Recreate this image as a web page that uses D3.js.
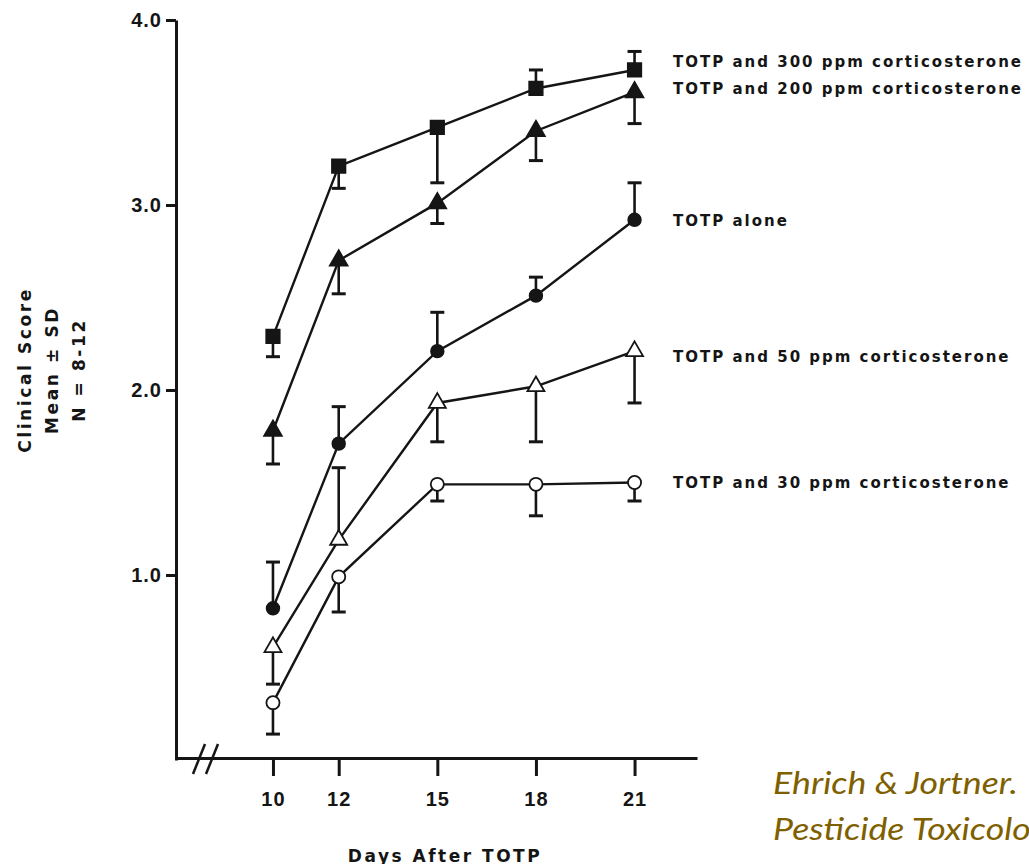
<!DOCTYPE html>
<html lang="en">
<head>
    <meta charset="UTF-8">
    <script src="https://d3js.org/d3.v7.min.js"></script>
    <title>Clinical Score after TOTP</title>
    <style>
        body { margin: 0; background: #fff; }
        svg { font-family: "Liberation Sans", Arial, sans-serif; display: block; }
        .scan { font-family: "DejaVu Sans", sans-serif; font-weight: bold; }
    </style>
</head>
<body>
    <div id="chart"></div>
    <script>
        // Days after TOTP
        const days = [10, 12, 15, 18, 21];
        const yTicks = [1, 2, 3, 4];

        // Mean clinical score, SD and which side the SD bar is drawn on
        const mean300 = [2.29, 3.21, 3.42, 3.63, 3.73];
        const sd300 = [0.11, 0.12, 0.30, 0.10, 0.10];
        const side300 = ["down", "down", "down", "up", "up"];

        const mean200 = [1.78, 2.70, 3.01, 3.40, 3.61];
        const sd200 = [0.18, 0.18, 0.11, 0.16, 0.17];
        const side200 = ["down", "down", "down", "down", "down"];

        const meanAlone = [0.82, 1.71, 2.21, 2.51, 2.92];
        const sdAlone = [0.25, 0.20, 0.21, 0.10, 0.20];
        const sideAlone = ["up", "up", "up", "up", "up"];

        const mean50 = [0.61, 1.19, 1.93, 2.02, 2.21];
        const sd50 = [0.20, 0.39, 0.21, 0.30, 0.28];
        const side50 = ["down", "up", "down", "down", "down"];

        const mean30 = [0.31, 0.99, 1.49, 1.49, 1.50];
        const sd30 = [0.17, 0.19, 0.09, 0.17, 0.10];
        const side30 = ["down", "down", "down", "down", "down"];

        const labels = [
            "TOTP and 300 ppm corticosterone",
            "TOTP and 200 ppm corticosterone",
            "TOTP alone",
            "TOTP and 50 ppm corticosterone",
            "TOTP and 30 ppm corticosterone"
        ];

        const ink = "#151515";
        const series = [
            { name: labels[0], mean: mean300, sd: sd300, side: side300, shape: d3.symbolSquare, size: 180, fill: ink, dy: -8 },
            { name: labels[1], mean: mean200, sd: sd200, side: side200, shape: d3.symbolTriangle, size: 135, fill: ink, dy: -3 },
            { name: labels[2], mean: meanAlone, sd: sdAlone, side: sideAlone, shape: d3.symbolCircle, size: 125, fill: ink, dy: 1 },
            { name: labels[3], mean: mean50, sd: sd50, side: side50, shape: d3.symbolTriangle, size: 125, fill: "#fff", dy: 6 },
            { name: labels[4], mean: mean30, sd: sd30, side: side30, shape: d3.symbolCircle, size: 135, fill: "#fff", dy: 0 }
        ];

        const W = 1029, H = 864;
        const svg = d3.select("#chart").append("svg")
            .attr("width", W)
            .attr("height", H);

        // Scales (x axis starts a bit before day 10, axis is broken)
        const x = d3.scaleLinear().domain([7.05, 22.9]).range([176, 697]);
        const y = d3.scaleLinear().domain([0, 4]).range([760, 20]);

        // Y axis
        const gy = svg.append("g")
            .attr("transform", `translate(${x.range()[0]},0)`)
            .call(d3.axisLeft(y).tickValues(yTicks).tickFormat(d3.format(".1f"))
                .tickSize(10).tickSizeOuter(0).tickPadding(4));

        // X axis
        const gx = svg.append("g")
            .attr("transform", `translate(0,${y(0) - 2})`)
            .call(d3.axisBottom(x).tickValues(days)
                .tickSize(18).tickSizeOuter(0).tickPadding(16));

        [gx, gy].forEach(g => {
            g.select(".domain").attr("stroke", ink).attr("stroke-width", 3);
            g.selectAll(".tick line").attr("stroke", ink).attr("stroke-width", 3);
            g.selectAll(".tick text")
                .attr("fill", ink)
                .style("font-size", "20px")
                .style("font-weight", "bold")
                .style("letter-spacing", "1px");
        });

        // Axis break marks
        const brk = svg.append("g").attr("stroke", ink).attr("stroke-width", 2.5);
        [199, 212].forEach(bx => {
            brk.append("line")
                .attr("x1", bx - 6).attr("y1", y(0) + 14)
                .attr("x2", bx + 6).attr("y2", y(0) - 16);
        });

        const line = d3.line()
            .x((d, i) => x(days[i]))
            .y(d => y(d));

        // Lines
        svg.append("g").selectAll("path")
            .data(series)
            .join("path")
            .attr("d", s => line(s.mean))
            .attr("fill", "none")
            .attr("stroke", ink)
            .attr("stroke-width", 2.4);

        // Error bars (one-sided)
        series.forEach(s => {
            const g = svg.append("g").attr("stroke", ink);
            s.mean.forEach((m, i) => {
                const end = s.side[i] === "up" ? m + s.sd[i] : m - s.sd[i];
                const cx = x(days[i]);
                g.append("line")
                    .attr("x1", cx).attr("x2", cx)
                    .attr("y1", y(m)).attr("y2", y(end))
                    .attr("stroke-width", 2.6);
                g.append("line")
                    .attr("x1", cx - 7).attr("x2", cx + 7)
                    .attr("y1", y(end)).attr("y2", y(end))
                    .attr("stroke-width", 3);
            });
        });

        // Markers
        series.forEach(s => {
            svg.append("g").selectAll("path")
                .data(s.mean)
                .join("path")
                .attr("transform", (d, i) => `translate(${x(days[i])},${y(d)})`)
                .attr("d", d3.symbol().type(s.shape).size(s.size))
                .attr("fill", s.fill)
                .attr("stroke", ink)
                .attr("stroke-width", 1.8);
        });

        // Series labels at the right end of each line
        svg.append("g").selectAll("text")
            .data(series)
            .join("text")
            .attr("class", "scan")
            .attr("x", 673)
            .attr("y", s => y(s.mean[s.mean.length - 1]) + s.dy)
            .attr("dominant-baseline", "central")
            .attr("fill", ink)
            .style("font-size", "15px")
            .style("letter-spacing", "2px")
            .text(s => s.name);

        // Y axis title, three lines rotated
        const yTitle = ["Clinical Score", "Mean \u00b1 SD", "N = 8-12"];
        svg.append("g").selectAll("text")
            .data(yTitle)
            .join("text")
            .attr("class", "scan")
            .attr("transform", (d, i) => `translate(${25 + i * 27},370) rotate(-90)`)
            .attr("text-anchor", "middle")
            .attr("dominant-baseline", "central")
            .attr("fill", ink)
            .style("font-size", "17px")
            .style("letter-spacing", "2.6px")
            .text(d => d);

        // X axis title (cut by the bottom edge, as in the scan)
        svg.append("text")
            .attr("class", "scan")
            .attr("x", 445)
            .attr("y", 862)
            .attr("text-anchor", "middle")
            .attr("fill", ink)
            .style("font-size", "17px")
            .style("letter-spacing", "2.5px")
            .text("Days After TOTP");

        // Citation
        const cite = svg.append("g")
            .attr("fill", "#7f6000")
            .style("font-family", "Lato, 'Open Sans', sans-serif")
            .style("font-style", "italic")
            .style("font-size", "31px");
        const c1 = cite.append("text").attr("x", 0).attr("y", 794).text("Ehrich & Jortner.");
        cite.append("text").attr("x", 0).attr("y", 840).text("Pesticide Toxicology");
        const sx = 245 / c1.node().getComputedTextLength();
        cite.attr("transform", `translate(773,0) scale(${sx},1)`);
    </script>
</body>
</html>
